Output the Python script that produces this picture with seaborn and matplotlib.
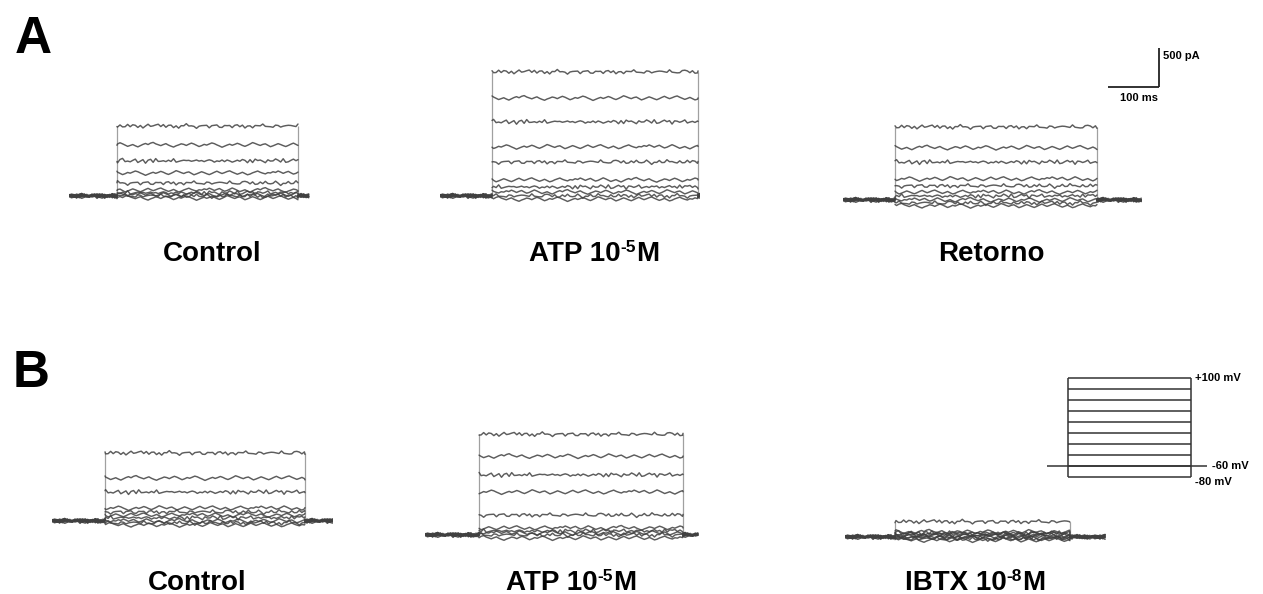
import numpy as np
import pandas as pd
import matplotlib
matplotlib.use("Agg")
import matplotlib.pyplot as plt
import seaborn as sns

# ---------------------------------------------------------------------------
# Data
# ---------------------------------------------------------------------------
# Voltage steps of the protocol (holding -60 mV, steps -80 ... +100 mV)
STEPS_MV = [-80, -60, -40, -20, 0, 20, 40, 60, 80, 100]
HOLDING_MV = -60

# Steady-state outward current (pA) of each sweep, ordered by STEPS_MV
A_CONTROL_PA = [-25, 0, 15, 40, 75, 165, 295, 450, 655, 895]
A_ATP_PA = [-40, 0, 50, 115, 205, 435, 630, 950, 1255, 1590]
A_RETORNO_PA = [-75, -40, 0, 50, 100, 180, 270, 485, 670, 935]
B_CONTROL_PA = [-50, -25, 0, 40, 75, 115, 165, 370, 550, 870]
B_ATP_PA = [-40, 0, 25, 50, 90, 255, 550, 770, 1010, 1290]
B_IBTX_PA = [-40, -25, -15, 0, 15, 25, 40, 50, 65, 195]

# Sweep timing of each recording (ms)
SWEEP_MS = [473, 510, 586, 551, 539, 514]
PULSE_ON_MS = [94, 102, 102, 104, 106, 98]
PULSE_OFF_MS = [449, 506, 498, 496, 506, 441]

# Recording noise (pA), one sample every STEP_MS
NOISE_PA = [
    0, 14, 6, 22, 10, -4, 8, 18, 2, -12, -4, 10, 24, 12, -2, -16, -6, 4, -10, -22,
    -8, 6, 16, 4, 20, 28, 12, 2, -8, 4, 14, -2, -14, -24, -10, 0, 12, 6, -6, 8,
    20, 10, -4, -18, -8, 6, -2, 10, 22, 14, 0, -12, -26, -14, -2, 8, -4, 6, 18, 8,
    -6, -16, -4, 10, 26, 16, 4, -6, 6, 12, -4, -20, -10, 2, 14, 4, -8, -18, -6, 8,
    20, 6, -6, 4, 16, 24, 10, -2, -14, -4, 8, -6, -20, -12, 2, 12, 22, 8, -2, -10, 4,
]
NOISE_STRIDE = [1, 2, 1, 3, 1, 2, 1, 3, 1, 2]
NOISE_OFFSET = [0, 37, 74, 10, 47, 84, 20, 57, 91, 30]
NOISE_GAIN = 1.15
STEP_MS = 5.0

PANEL_LEVELS = [A_CONTROL_PA, A_ATP_PA, A_RETORNO_PA, B_CONTROL_PA, B_ATP_PA, B_IBTX_PA]
PANEL_LABELS = [
    ("Control", "", ""), ("ATP 10", "-5", "M"), ("Retorno", "", ""),
    ("Control", "", ""), ("ATP 10", "-5", "M"), ("IBTX 10", "-8", "M"),
]

# Calibration bar
SCALE_MS = 100
SCALE_PA = 500

# Voltage protocol timing (ms)
PROTO_TOTAL_MS = 314
PROTO_ON_MS = 41
PROTO_OFF_MS = 282

# ---------------------------------------------------------------------------
# Layout (pixels)
# ---------------------------------------------------------------------------
W, H = 1263, 594
PX_PER_MS = 0.51
PX_PER_PA = 39.0 / 500.0
PX_PER_MV = 0.55
Y_LOW_PA, Y_HIGH_PA = -300, 1800

PANEL_ORIGIN_PX = [(69, 196), (440, 196), (843, 200), (52, 521), (425, 535), (845, 537)]
LABEL_POS_PX = [(212, 261), (594, 261), (991, 261), (197, 590), (571, 590), (975, 590)]

TRACE_COLOR = "#404040"
EDGE_COLOR = "#a0a0a0"
FONT = ["Liberation Sans", "DejaVu Sans"]

sns.set_theme(style="white")
plt.rcParams["font.family"] = FONT
plt.rcParams["text.color"] = "black"

fig = plt.figure(figsize=(W / 100, H / 100), dpi=100)
fig.patch.set_facecolor("white")


def px_axes(left, top, width, height):
    ax = fig.add_axes([left / W, 1 - (top + height) / H, width / W, height / H])
    ax.set_facecolor("none")
    ax.axis("off")
    return ax


def sweep_frame(levels, sweep, on, off):
    """Long-form table of every sweep, split into pre / pulse / post pieces."""
    noise = np.asarray(NOISE_PA, dtype=float) * NOISE_GAIN
    n = len(noise)
    grid = np.arange(0.0, sweep + 0.1, STEP_MS)
    frames = []
    for k, (mv, amp) in enumerate(zip(STEPS_MV, levels)):
        pieces = [
            (np.append(grid[grid < on], on), 0.0),
            (np.concatenate([[on], grid[(grid > on) & (grid < off)], [off]]), amp),
            (np.insert(grid[grid > off], 0, off), 0.0),
        ]
        pos = 0
        for p, (t, level) in enumerate(pieces):
            idx = (NOISE_OFFSET[k] + NOISE_STRIDE[k] * (pos + np.arange(len(t)))) % n
            pos += len(t)
            frames.append(pd.DataFrame({"t": t, "i": level + noise[idx],
                                        "unit": f"{mv}_{p}"}))
    return pd.concat(frames, ignore_index=True)


# Current traces
for levels, sweep, on, off, (x0, base) in zip(PANEL_LEVELS, SWEEP_MS, PULSE_ON_MS,
                                              PULSE_OFF_MS, PANEL_ORIGIN_PX):
    top = base - Y_HIGH_PA * PX_PER_PA
    ax = px_axes(x0, top, sweep * PX_PER_MS, (Y_HIGH_PA - Y_LOW_PA) * PX_PER_PA)
    # fast activation / deactivation edges of the sweeps
    ax.vlines([on, off], 0, max(levels), color=EDGE_COLOR, lw=0.9)
    df = sweep_frame(levels, sweep, on, off)
    sns.lineplot(data=df, x="t", y="i", units="unit", estimator=None, sort=False,
                 color=TRACE_COLOR, lw=1.05, alpha=0.85, ax=ax, legend=False)
    ax.set_xlim(0, sweep)
    ax.set_ylim(Y_LOW_PA, Y_HIGH_PA)
    ax.axis("off")

# Condition labels, with a raised exponent where present
renderer = fig.canvas.get_renderer()
MAIN_SIZE, SUP_SIZE, SUP_RISE_PX = 20, 12.5, 9
for (prefix, exponent, suffix), (cx, by) in zip(PANEL_LABELS, LABEL_POS_PX):
    parts = [(prefix, MAIN_SIZE, 0)]
    if exponent:
        parts += [(exponent, SUP_SIZE, SUP_RISE_PX), (suffix, MAIN_SIZE, 0)]
    texts = [fig.text(0, 1 - (by - rise) / H, s, fontsize=size, fontweight="bold",
                      ha="left", va="baseline", color="black")
             for s, size, rise in parts]
    widths = [t.get_window_extent(renderer).width for t in texts]
    x = cx - sum(widths) / 2
    for t, w in zip(texts, widths):
        t.set_x(x / W)
        x += w

# Panel letters
fig.text(15 / W, 1 - 53 / H, "A", fontsize=37, fontweight="bold", va="baseline",
         ha="left", color="black")
fig.text(13 / W, 1 - 387 / H, "B", fontsize=37, fontweight="bold", va="baseline",
         ha="left", color="black")

# Calibration bar (corner at 1159, 87 px)
sx_lo, sx_hi = -120, 30
sy_lo, sy_hi = -200, 620
axs = px_axes(1159 + sx_lo * PX_PER_MS, 87 - sy_hi * PX_PER_PA,
              (sx_hi - sx_lo) * PX_PER_MS, (sy_hi - sy_lo) * PX_PER_PA)
axs.plot([-SCALE_MS, 0], [0, 0], color="#222222", lw=1.3, solid_capstyle="butt")
axs.plot([0, 0], [0, SCALE_PA], color="#222222", lw=1.3, solid_capstyle="butt")
axs.set_xlim(sx_lo, sx_hi)
axs.set_ylim(sy_lo, sy_hi)
axs.text(7, SCALE_PA * 0.79, f"{SCALE_PA} pA", fontsize=8, fontweight="bold",
         ha="left", va="center", color="black")
axs.text(-SCALE_MS * 0.4, -140, f"{SCALE_MS} ms", fontsize=8, fontweight="bold",
         ha="center", va="center", color="black")

# Voltage protocol
vy_lo, vy_hi = -100, 115
axp = px_axes(1047, 378 - (vy_hi - 100) * PX_PER_MV, 200,
              (vy_hi - vy_lo) * PX_PER_MV)
axp.set_xlim(0, 200 / PX_PER_MS)
axp.set_ylim(vy_lo, vy_hi)
proto_color = "#333333"
axp.hlines(STEPS_MV, PROTO_ON_MS, PROTO_OFF_MS, color=proto_color, lw=1.1)
axp.vlines([PROTO_ON_MS, PROTO_OFF_MS], min(STEPS_MV), max(STEPS_MV), color=proto_color, lw=1.1)
axp.hlines(HOLDING_MV, 0, PROTO_TOTAL_MS, color=proto_color, lw=1.1)
axp.text(PROTO_OFF_MS + 9, max(STEPS_MV), f"+{max(STEPS_MV)} mV", fontsize=8,
         fontweight="bold", ha="left", va="center", color="black")
axp.text(PROTO_TOTAL_MS + 9, HOLDING_MV, f"{HOLDING_MV} mV", fontsize=8,
         fontweight="bold", ha="left", va="center", color="black")
axp.text(PROTO_OFF_MS + 9, min(STEPS_MV) - 9, f"{min(STEPS_MV)} mV", fontsize=8,
         fontweight="bold", ha="left", va="center", color="black")

fig.savefig("out.png", dpi=100, facecolor="white")
